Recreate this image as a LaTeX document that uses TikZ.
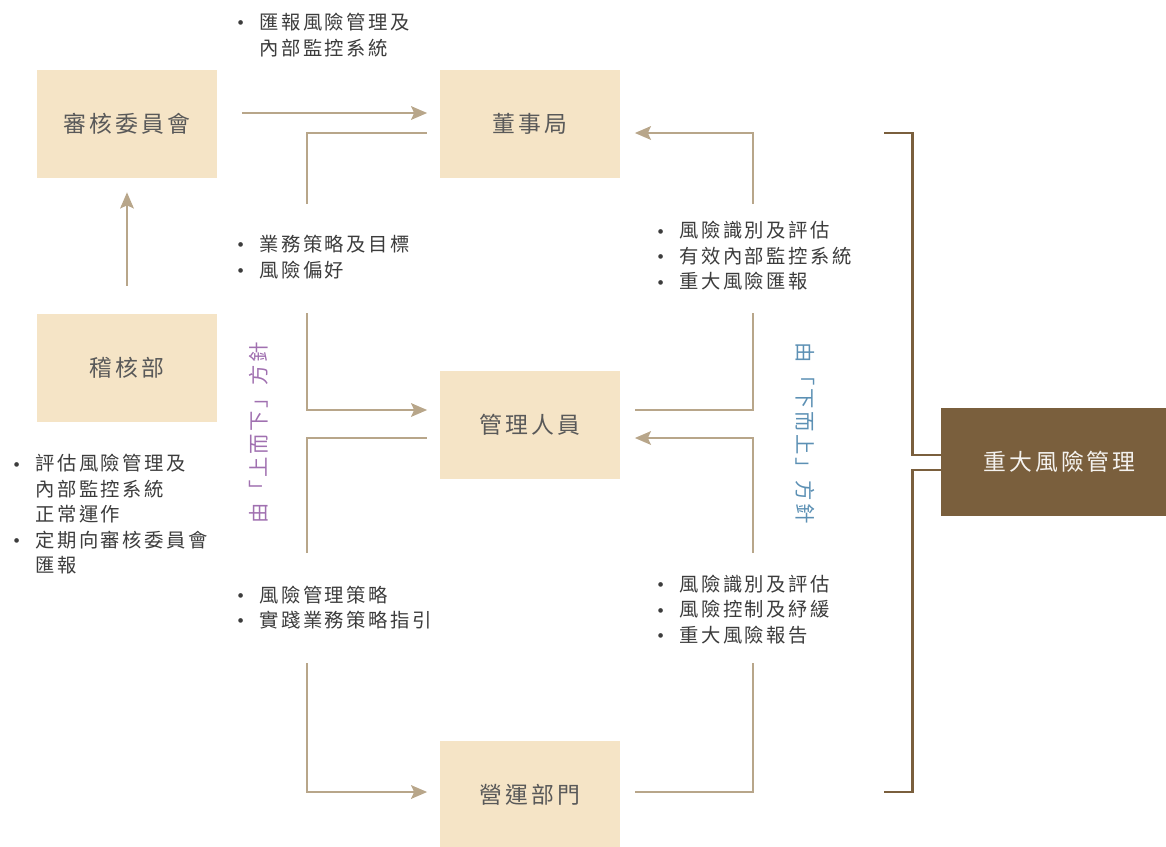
\documentclass[tikz,border=0pt]{standalone}
\usepackage{fontspec}
\usepackage{tikz}
\usetikzlibrary{arrows.meta,calc}

\newfontfamily\cjk{Noto Sans CJK TC}[LetterSpace=13]
\newfontfamily\cjkbox{Noto Sans CJK TC}[LetterSpace=13]

\definecolor{boxfill}{HTML}{F5E4C6}
\definecolor{arrowc}{HTML}{B8A68A}
\definecolor{darkbrown}{HTML}{7A5F3D}
\definecolor{topdown}{HTML}{A070B0}
\definecolor{bottomup}{HTML}{5C90B4}
\definecolor{txt}{HTML}{3C3C3C}

\newcommand{\bl}{\makebox[0.5cm][l]{\raisebox{1.6pt}{\rmfamily\fontsize{9pt}{9pt}\selectfont\textbullet}}}
\newcommand{\ind}{\hspace*{0.5cm}}

\begin{document}
\begin{tikzpicture}[x=0.02cm, y=-0.02cm,
    box/.style={fill=boxfill, minimum width=3.62cm, minimum height=2.16cm,
      inner sep=0pt, text=txt!85, font=\cjkbox\fontsize{13pt}{15pt}\selectfont},
    dark/.style={box, fill=darkbrown, minimum width=4.5cm, text=white!92!darkbrown},
    note/.style={anchor=west, align=left, inner sep=0pt, text=txt,
      font=\cjk\fontsize{11pt}{14.5pt}\selectfont},
    vert/.style={inner sep=0pt, font=\cjk\fontsize{11.6pt}{13pt}\selectfont},
    line/.style={draw=arrowc, line width=1.5pt},
    arr/.style={line, -{Stealth[length=0.32cm, width=0.27cm, inset=0.06cm]}},
    bracket/.style={draw=darkbrown, line width=1.4pt}]
    \useasboundingbox (0,0) rectangle (1166,846);

    \node[box] (audit)    at (127,124)    {審核委員會};
    \node[box] (board)    at (530,124)    {董事局};
    \node[box] (internal) at (127,368)    {稽核部};
    \node[box] (mgmt)     at (530,425)    {管理人員};
    \node[box] (ops)      at (530,795)    {營運部門};
    \node[dark] (risk)    at (1053.5,462) {\hspace*{7pt}重大風險管理};

    \draw[arr] ($(audit.east)+(24,-11)$) -- ($(board.west)+(-12,-11)$);
    \draw[arr] ($(internal.north)+(0,-28)$) -- ($(audit.south)+(0,14)$);

    \coordinate (l1) at (307,204);
    \coordinate (l2) at (307,313);
    \coordinate (l3) at (307,553);
    \coordinate (l4) at (307,663);
    \draw[line] (l1) |- ($(board.west)+(-12,9)$);
    \draw[arr]  (l2) |- ($(mgmt.west)+(-12,-15)$);
    \draw[line] (l3) |- ($(mgmt.west)+(-12,13)$);
    \draw[arr]  (l4) |- ($(ops.west)+(-12,-3)$);

    \coordinate (r1) at (753,204);
    \coordinate (r2) at (753,313);
    \coordinate (r3) at (753,553);
    \coordinate (r4) at (753,663);
    \draw[arr]  (r1) |- ($(board.east)+(14,9)$);
    \draw[line] (r2) |- ($(mgmt.east)+(14,-15)$);
    \draw[arr]  (r3) |- ($(mgmt.east)+(14,13)$);
    \draw[line] (r4) |- ($(ops.east)+(14,-3)$);

    \coordinate (bt) at (884,133);
    \coordinate (bb) at (884,792);
    \draw[bracket] (bt) -| ($(risk.west)+(-28,-7)$) -- ($(risk.west)+(0,-7)$);
    \draw[bracket] (bb) -| ($(risk.west)+(-28,8)$) -- ($(risk.west)+(0,8)$);

    \node[vert, rotate=90, text=topdown]   (down) at (259,433) {由「上而下」方針};
    \node[vert, rotate=-90, text=bottomup] (up)   at (805,433) {由「下而上」方針};

    \node[note] (n1) at (234,35)    {\bl 匯報風險管理及\\\ind 內部監控系統};
    \node[note] (n2) at (234,257)   {\bl 業務策略及目標\\\bl 風險偏好};
    \node[note] (n3) at (234,607.5) {\bl 風險管理策略\\\bl 實踐業務策略指引};
    \node[note] (n4) at (654,256)   {\bl 風險識別及評估\\\bl 有效內部監控系統\\\bl 重大風險匯報};
    \node[note] (n5) at (654,609.5) {\bl 風險識別及評估\\\bl 風險控制及紓緩\\\bl 重大風險報告};
    \node[note] (n6) at (10,514.5)  {\bl 評估風險管理及\\\ind 內部監控系統\\\ind 正常運作\\\bl 定期向審核委員會\\\ind 匯報};
\end{tikzpicture}
\end{document}
